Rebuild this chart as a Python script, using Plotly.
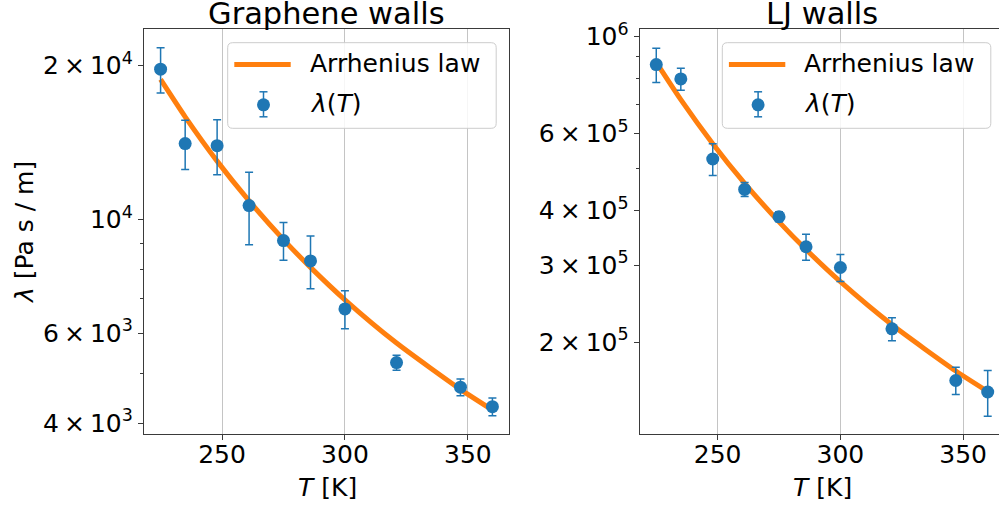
import math
import plotly.graph_objects as go

# ---------------- data ----------------
T = [225, 235, 248, 261, 275, 286, 300, 321, 347, 360]

lam_graphene = [19680, 14080, 13950, 10650, 9100, 8305, 6690, 5254, 4704, 4310]
err_graphene = [2000, 1550, 1720, 1720, 770, 980, 570, 180, 177, 171]
fit_graphene = [18790, 15880, 13010, 10880, 9140, 8066, 6970, 5738, 4658, 4245]

lam_lj = [862500, 799800, 524800, 447000, 387200, 330600, 296400, 214600, 163500, 153900]
err_lj = [78000, 46000, 43500, 16500, 10200, 22500, 21000, 13000, 11700, 18500]
fit_lj = [873000, 717500, 568900, 461600, 376900, 325900, 275000, 219200, 171900, 154300]

titles = ["Graphene walls", "LJ walls"]
legend_labels = ["Arrhenius law", "<i>λ</i>(<i>T</i>)"]
x_label = "<i>T</i> [K]"
y_label = "<i>λ</i> [Pa s / m]"

x_tickvals = [250, 300, 350]
y1_tickvals = [4000, 6000, 10000, 20000]
y1_ticktext = ["4\u2009×\u200910<sup>3</sup>", "6\u2009×\u200910<sup>3</sup>",
               "10<sup>4</sup>", "2\u2009×\u200910<sup>4</sup>"]
y1_minor = [5000, 7000, 8000, 9000]
y1_grid = [10000]

y2_tickvals = [200000, 300000, 400000, 600000, 1000000]
y2_ticktext = ["2\u2009×\u200910<sup>5</sup>", "3\u2009×\u200910<sup>5</sup>",
               "4\u2009×\u200910<sup>5</sup>", "6\u2009×\u200910<sup>5</sup>",
               "10<sup>6</sup>"]
y2_minor = [500000, 700000, 800000, 900000]
y2_grid = [1000000]

# ---------------- style ----------------
W, H = 999, 507
FONT = "DejaVu Sans"
BLUE = "#1f77b4"
ORANGE = "#ff7f0e"
SPINE = "#3a3a3a"
GRID = "#c4c4c4"
FS = 25
TITLE_FS = 30.5


def px(x):
    return x / W


def py(y):
    return 1 - y / H


fig = go.Figure()

panels = [
    dict(xa="x", ya="y", lam=lam_graphene, err=err_graphene, fit=fit_graphene),
    dict(xa="x2", ya="y2", lam=lam_lj, err=err_lj, fit=fit_lj),
]
for p in panels:
    fig.add_trace(go.Scatter(
        x=T, y=p["fit"], mode="lines", xaxis=p["xa"], yaxis=p["ya"],
        line=dict(color=ORANGE, width=5, shape="spline", smoothing=0.6),
        showlegend=False, hoverinfo="skip"))
    fig.add_trace(go.Scatter(
        x=T, y=p["lam"], mode="markers", xaxis=p["xa"], yaxis=p["ya"],
        marker=dict(color=BLUE, size=13, line=dict(width=0)),
        error_y=dict(type="data", array=p["err"], symmetric=True,
                     color=BLUE, thickness=1.5, width=4),
        showlegend=False))

ydom = [py(434), py(29)]
xdom1 = [px(144), px(509)]
xdom2 = [px(639.7), 1.0]

common_x = dict(
    tickmode="array", tickvals=x_tickvals, ticks="outside", ticklen=5,
    tickwidth=1, tickcolor=SPINE, showline=True, linecolor=SPINE, linewidth=1.2,
    showgrid=True, gridcolor=GRID, gridwidth=1, zeroline=False,
    ticklabelstandoff=-7,
    tickfont=dict(family=FONT, size=FS, color="black"),
)
common_y = dict(
    type="log", tickmode="array", ticks="outside", ticklen=5, tickwidth=1,
    tickcolor=SPINE, showline=True, linecolor=SPINE, linewidth=1.2,
    showgrid=False, zeroline=False,
    tickfont=dict(family=FONT, size=FS, color="black"),
)

fig.update_layout(
    width=W, height=H, autosize=False,
    margin=dict(l=0, r=0, t=0, b=0, pad=0, autoexpand=False),
    paper_bgcolor="white", plot_bgcolor="white",
    font=dict(family=FONT, size=FS, color="black"),
    showlegend=False,
    xaxis=dict(domain=xdom1, anchor="y", range=[218.25, 366.75], mirror=True, **common_x),
    xaxis2=dict(domain=xdom2, anchor="y2", range=[218.25, 364.6], mirror=True, **common_x),
    yaxis=dict(domain=ydom, anchor="x", range=[3.581, 4.3725], mirror=True,
               tickvals=y1_tickvals, ticktext=y1_ticktext,
               minor=dict(tickmode="array", tickvals=y1_minor, ticks="outside",
                          ticklen=3, tickcolor=SPINE, showgrid=False),
               **common_y),
    yaxis2=dict(domain=ydom, anchor="x2", range=[5.0912, 6.0172], mirror=False,
                tickvals=y2_tickvals, ticktext=y2_ticktext,
                minor=dict(tickmode="array", tickvals=y2_minor, ticks="outside",
                           ticklen=3, tickcolor=SPINE, showgrid=False),
                **common_y),
)

shapes = []
# horizontal major gridlines (log axes -> log10 values)
for ref, vals in (("y", y1_grid), ("y2", y2_grid)):
    xr = "x domain" if ref == "y" else "x2 domain"
    for v in vals:
        shapes.append(dict(type="line", xref=xr, yref=ref, x0=0, x1=1,
                           y0=math.log10(v), y1=math.log10(v),
                           line=dict(color=GRID, width=1), layer="below"))


def rounded_box(x0, y0, x1, y1, r=5):
    pts = [
        f"M {px(x0 + r)},{py(y0)}",
        f"L {px(x1 - r)},{py(y0)}",
        f"Q {px(x1)},{py(y0)} {px(x1)},{py(y0 + r)}",
        f"L {px(x1)},{py(y1 - r)}",
        f"Q {px(x1)},{py(y1)} {px(x1 - r)},{py(y1)}",
        f"L {px(x0 + r)},{py(y1)}",
        f"Q {px(x0)},{py(y1)} {px(x0)},{py(y1 - r)}",
        f"L {px(x0)},{py(y0 + r)}",
        f"Q {px(x0)},{py(y0)} {px(x0 + r)},{py(y0)}",
        "Z",
    ]
    return " ".join(pts)


annotations = []
# legends drawn by hand to match the reference legend geometry
for lx in (227.7, 722.3):
    shapes.append(dict(type="path", xref="paper", yref="paper",
                       path=rounded_box(lx, 42.7, lx + 268.5, 128.3),
                       fillcolor="rgba(255,255,255,0.85)",
                       line=dict(color="#cccccc", width=1), layer="above"))
    # line sample
    shapes.append(dict(type="line", xref="paper", yref="paper",
                       x0=px(lx + 6.6), x1=px(lx + 63), y0=py(64.5), y1=py(64.5),
                       line=dict(color=ORANGE, width=5), layer="above"))
    # marker sample with error bar
    mx, my = lx + 35.8, 104.8
    shapes.append(dict(type="line", xref="paper", yref="paper",
                       x0=px(mx), x1=px(mx), y0=py(my - 13), y1=py(my + 12),
                       line=dict(color=BLUE, width=1.5), layer="above"))
    for cy in (my - 13, my + 12):
        shapes.append(dict(type="line", xref="paper", yref="paper",
                           x0=px(mx - 4), x1=px(mx + 4), y0=py(cy), y1=py(cy),
                           line=dict(color=BLUE, width=1.5), layer="above"))
    shapes.append(dict(type="circle", xref="paper", yref="paper",
                       x0=px(mx - 6.5), x1=px(mx + 6.5), y0=py(my - 6.5), y1=py(my + 6.5),
                       fillcolor=BLUE, line=dict(width=0), layer="above"))
    for label, ly in zip(legend_labels, (64, 104)):
        annotations.append(dict(text=label, xref="paper", yref="paper",
                                x=px(lx + 80), y=py(ly), xanchor="left", yanchor="middle",
                                showarrow=False, font=dict(family=FONT, size=FS, color="black")))

# titles
for t, cx in zip(titles, (326.5, 822.3)):
    annotations.append(dict(text=t, xref="paper", yref="paper", x=px(cx), y=py(13),
                            xanchor="center", yanchor="middle", showarrow=False,
                            font=dict(family=FONT, size=TITLE_FS, color="black")))
# x labels
for cx in (327.5, 822.5):
    annotations.append(dict(text=x_label, xref="paper", yref="paper", x=px(cx), y=py(487),
                            xanchor="center", yanchor="middle", showarrow=False,
                            font=dict(family=FONT, size=FS, color="black")))
# y label
annotations.append(dict(text=y_label, xref="paper", yref="paper", x=px(24), y=py(233),
                        xanchor="center", yanchor="middle", textangle=-90, showarrow=False,
                        font=dict(family=FONT, size=FS, color="black")))

fig.update_layout(shapes=shapes, annotations=annotations)
fig.write_html("out.html")
